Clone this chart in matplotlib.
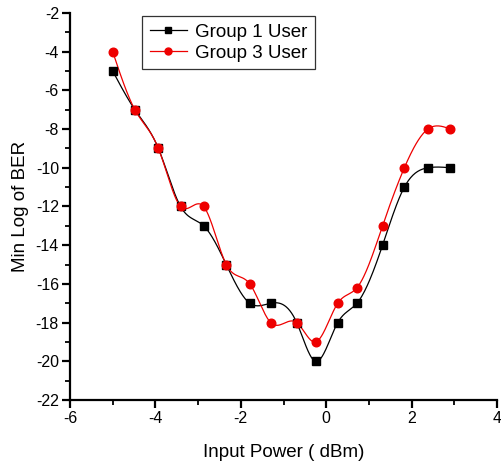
import numpy as np
import matplotlib
matplotlib.use("Agg")
import matplotlib.pyplot as plt
from matplotlib.lines import Line2D
from matplotlib.ticker import MultipleLocator

plt.rcParams['font.family'] = ['Liberation Sans', 'DejaVu Sans']
plt.rcParams['axes.unicode_minus'] = False

input_power = [-5.0, -4.48, -3.93, -3.41, -2.87, -2.34, -1.79, -1.30,
               -0.69, -0.25, 0.27, 0.72, 1.32, 1.83, 2.38, 2.91]
group1_ber = [-5, -7, -9, -12, -13, -15, -17, -17,
              -18, -20, -18, -17, -14, -11, -10, -10]
group3_ber = [-4, -7, -9, -12, -12, -15, -16, -18,
              -18, -19, -17, -16.2, -13, -10, -8, -8]


def natural_spline(x, y, n=30):
    x = np.asarray(x, float)
    y = np.asarray(y, float)
    k = len(x)
    h = np.diff(x)
    A = np.zeros((k, k))
    b = np.zeros(k)
    A[0, 0] = 1
    A[-1, -1] = 1
    for i in range(1, k - 1):
        A[i, i - 1] = h[i - 1]
        A[i, i] = 2 * (h[i - 1] + h[i])
        A[i, i + 1] = h[i]
        b[i] = 6 * ((y[i + 1] - y[i]) / h[i] - (y[i] - y[i - 1]) / h[i - 1])
    M = np.linalg.solve(A, b)
    xs, ys = [], []
    for i in range(k - 1):
        t = np.linspace(x[i], x[i + 1], n, endpoint=(i == k - 2))
        a = x[i + 1] - t
        c = t - x[i]
        s = (M[i] * a ** 3 + M[i + 1] * c ** 3) / (6 * h[i]) \
            + (y[i] / h[i] - M[i] * h[i] / 6) * a \
            + (y[i + 1] / h[i] - M[i + 1] * h[i] / 6) * c
        xs.append(t)
        ys.append(s)
    return np.concatenate(xs), np.concatenate(ys)


fig = plt.figure(figsize=(5.02, 4.66), dpi=100)
ax = fig.add_axes([70 / 502, 1 - 400 / 466, 427 / 502, 387 / 466])

series = [
    (group1_ber, 'black', 's', 'Group 1 User', 5.6),
    (group3_ber, '#ee0000', 'o', 'Group 3 User', 6.2),
]
handles = []
for vals, col, mk, lab, ms in series:
    sx, sy = natural_spline(input_power, vals)
    ax.plot(sx, sy, color=col, lw=0.9, zorder=2)
    ax.plot(input_power, vals, ls='none', marker=mk, color=col,
            markersize=ms, zorder=3)
    handles.append(Line2D([], [], color=col, lw=0.9, marker=mk,
                          markersize=5, label=lab))

ax.set_xlim(-6, 4)
ax.set_ylim(-22, -2)
ax.xaxis.set_major_locator(MultipleLocator(2))
ax.xaxis.set_minor_locator(MultipleLocator(1))
ax.yaxis.set_major_locator(MultipleLocator(2))
ax.yaxis.set_minor_locator(MultipleLocator(1))
for s in ['top', 'right']:
    ax.spines[s].set_visible(False)
for s in ['left', 'bottom']:
    ax.spines[s].set_linewidth(1.6)
ax.tick_params(which='major', direction='out', length=6, width=1.6,
               labelsize=11.5, pad=2)
ax.tick_params(which='minor', direction='out', length=3.5, width=1.3)

ax.set_xlabel('Input Power ( dBm)', fontsize=13.5, labelpad=13)
ax.set_ylabel('Min Log of BER', fontsize=13.5, labelpad=5)

leg = ax.legend(handles=handles, loc='upper left',
                bbox_to_anchor=(142 / 502, 1 - 16 / 466),
                bbox_transform=fig.transFigure, borderaxespad=0,
                fontsize=13.5, frameon=True, fancybox=False,
                handlelength=2.0, handletextpad=0.45, borderpad=0.4,
                labelspacing=0.2)
leg.get_frame().set_edgecolor('black')
leg.get_frame().set_linewidth(0.9)

fig.savefig('out.png', dpi=100)
